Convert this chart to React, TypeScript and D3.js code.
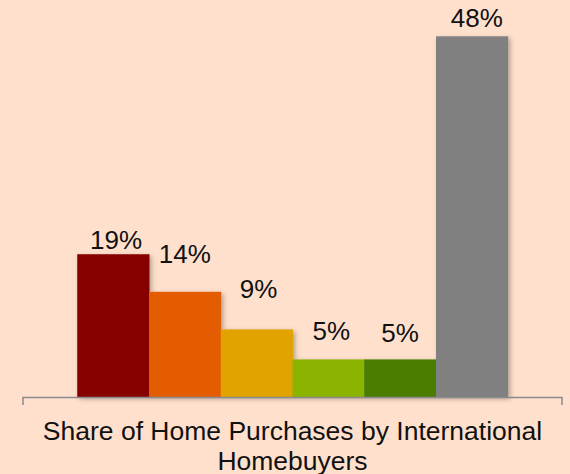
import React from "react";
import * as d3 from "d3";

const categories = ["A", "B", "C", "D", "E", "Other"];
const values = [19, 14, 9, 5, 5, 48];
const labels = ["19%", "14%", "9%", "5%", "5%", "48%"];
const colors = ["#860000", "#E35B00", "#E0A300", "#8AB400", "#487B00", "#808080"];
// label nudges relative to default position (layout, not data)
const labelDx = [3, 0, 2, 3, 0, 5];
const labelDy = [-5, -29, -31, -19, -17, -9];
const titleLines = ["Share of Home Purchases by International", "Homebuyers"];

const W = 570;
const H = 474;

export default function App() {
  const x = d3
    .scaleBand<string>()
    .domain(categories)
    .range([23, 562])
    .paddingInner(0)
    .paddingOuter(0.756);
  const y = d3.scaleLinear().domain([0, 50]).range([397, 21.3]);
  const font = "'Liberation Sans', Arial, sans-serif";
  const base = y(0);

  return (
    <svg
      width={W}
      height={H}
      style={{ position: "fixed", left: 0, top: 0 }}
      xmlns="http://www.w3.org/2000/svg"
    >
      <defs>
        <filter id="shadow" x="-20%" y="-20%" width="140%" height="140%">
          <feDropShadow dx="2" dy="2" stdDeviation="2.5" floodColor="#000" floodOpacity="0.3" />
        </filter>
      </defs>
      <rect x={0} y={0} width={W} height={H} fill="#FFE0CD" />
      <g filter="url(#shadow)">
        {categories.map((c, i) => (
          <rect
            key={c}
            x={x(c)!}
            y={y(values[i])}
            width={x.bandwidth() + 0.5}
            height={base - y(values[i])}
            fill={colors[i]}
          />
        ))}
      </g>
      <path
        d={`M${x.range()[0]},${base + 8}V${base + 0.5}H${x.range()[1]}V${base + 8}`}
        fill="none"
        stroke="#8A8A8A"
        strokeWidth={1.5}
      />
      {categories.map((c, i) => (
        <text
          key={c}
          x={x(c)! + x.bandwidth() / 2 + labelDx[i]}
          y={y(values[i]) + labelDy[i]}
          textAnchor="middle"
          fontFamily={font}
          fontSize={26}
          fill="#111"
        >
          {labels[i]}
        </text>
      ))}
      {titleLines.map((t, i) => (
        <text
          key={i}
          x={(x.range()[0] + x.range()[1]) / 2}
          y={439.5 + i * 30.5}
          textAnchor="middle"
          fontFamily={font}
          fontSize={26.5}
          fill="#111"
        >
          {t}
        </text>
      ))}
    </svg>
  );
}
